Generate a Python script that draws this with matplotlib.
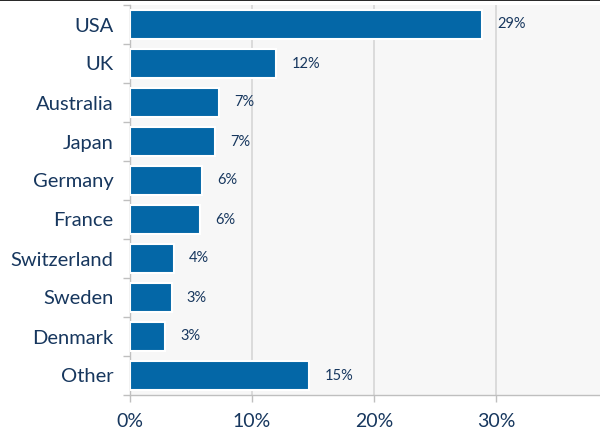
import matplotlib.pyplot as plt
from matplotlib.ticker import FixedLocator, FuncFormatter

# Categories (top to bottom) and shares in %
countries = ['USA', 'UK', 'Australia', 'Japan', 'Germany', 'France',
             'Switzerland', 'Sweden', 'Denmark', 'Other']
shares = [28.8, 12.0, 7.3, 7.0, 5.9, 5.7, 3.6, 3.4, 2.9, 14.7]
share_labels = ['29%', '12%', '7%', '7%', '6%', '6%', '4%', '3%', '3%', '15%']
x_ticks = [0, 10, 20, 30]

text_color = '#17375e'
bar_color = '#0467a7'

plt.rcParams['font.family'] = ['Lato', 'DejaVu Sans']

fig = plt.figure(figsize=(6, 4.3), dpi=100)
ax = fig.add_axes([130 / 600, 35 / 430, 470 / 600, 390 / 430])
ax.set_facecolor('#f7f7f7')

y = list(range(len(countries)))
ax.barh(y, shares, height=0.72, color=bar_color, edgecolor='white',
        linewidth=1.5, zorder=3)

for yi, v, lab in zip(y, shares, share_labels):
    ax.annotate(lab, (v, yi), xytext=(11, 0), textcoords='offset points',
                va='center', ha='left', fontsize=10.5, color=text_color)

ax.set_ylim(len(countries) - 0.5, -0.5)
ax.set_xlim(0, 38.5)

ax.set_yticks(y)
ax.set_yticklabels(countries, fontsize=14.5, color=text_color)
ax.yaxis.set_minor_locator(FixedLocator([i - 0.5 for i in range(len(countries) + 1)]))
ax.tick_params(axis='y', which='major', length=0, pad=12)
ax.tick_params(axis='y', which='minor', length=5, color='#bfbfbf', width=1)

ax.set_xticks(x_ticks)
ax.xaxis.set_major_formatter(FuncFormatter(lambda v, p: f'{v:.0f}%'))
ax.tick_params(axis='x', length=5, color='#bfbfbf', width=1,
               labelsize=14, labelcolor=text_color, pad=8)
ax.grid(axis='x', color='#d9d9d9', linewidth=1.3, zorder=0)

for side in ['top', 'right']:
    ax.spines[side].set_visible(False)
for side in ['left', 'bottom']:
    ax.spines[side].set_color('#bfbfbf')
    ax.spines[side].set_linewidth(1)

# thin dark border line along the top edge
fig.add_artist(plt.Line2D([0, 1], [0.999, 0.999], color='black', linewidth=1.2,
                          transform=fig.transFigure))

plt.savefig('out.png', dpi=100)
